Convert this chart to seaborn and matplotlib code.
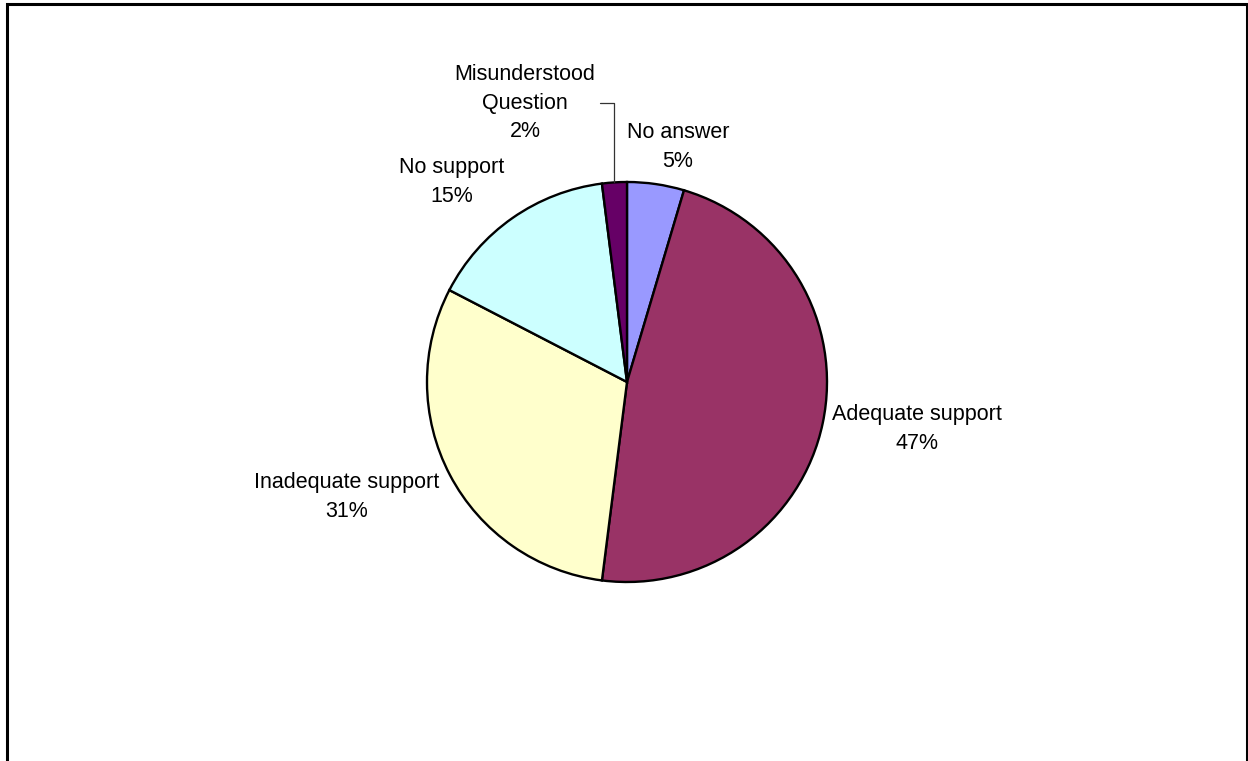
import numpy as np
import matplotlib
matplotlib.use('Agg')
import matplotlib.pyplot as plt
from matplotlib.patches import Rectangle
import seaborn as sns

# slice data (clockwise from 12 o'clock)
categories = ['No answer', 'Adequate support', 'Inadequate support', 'No support', 'Misunderstood\nQuestion']
shares = [4.6, 47.4, 30.6, 15.4, 2.0]
colors = ['#9999FF', '#993366', '#FFFFCC', '#CCFFFF', '#660066']

# label centres in pixels (x, y from top)
label_px = [(678, 147), (917, 429), (347, 497), (452, 182), (525, 103)]

W, H = 1248, 761
CX, CY, R = 627, 382, 200


def to_data(px, py):
    return (px - CX) / R, (CY - py) / R


sns.set_theme(style="white")
plt.rcParams['font.family'] = ['Liberation Sans', 'DejaVu Sans']

fig = plt.figure(figsize=(W / 100, H / 100), dpi=100)
fig.patch.set_facecolor('white')
ax = fig.add_axes([0, 0, 1, 1])

wedges, _ = ax.pie(shares, colors=sns.color_palette(colors), startangle=90, counterclock=False,
                   wedgeprops=dict(edgecolor='black', linewidth=1.7))
ax.set_xlim(-CX / R, (W - CX) / R)
ax.set_ylim((CY - H) / R, CY / R)
ax.set_aspect('auto')
ax.axis('off')

total = sum(shares)
for cat, val, (px, py) in zip(categories, shares, label_px):
    x, y = to_data(px, py)
    ax.text(x, y, f"{cat}\n{round(val / total * 100):.0f}%", ha='center', va='center',
            fontsize=15.5, linespacing=1.45, color='black')

# leader line for the small slice
w = wedges[-1]
mid = np.deg2rad((w.theta1 + w.theta2) / 2)
ex, ey = np.cos(mid), np.sin(mid)
sx, sy = to_data(600, 103)
ax.plot([sx, ex, ex], [sy, sy, ey], color='#333333', linewidth=0.9)

# outer chart frame
fig.patches.append(Rectangle((6.5 / W, -0.05), (1246.5 - 6.5) / W, 1.05 - 4 / H,
                             transform=fig.transFigure, fill=False, edgecolor='black',
                             linewidth=2.2, clip_on=False))

fig.savefig('out.png', dpi=100)
